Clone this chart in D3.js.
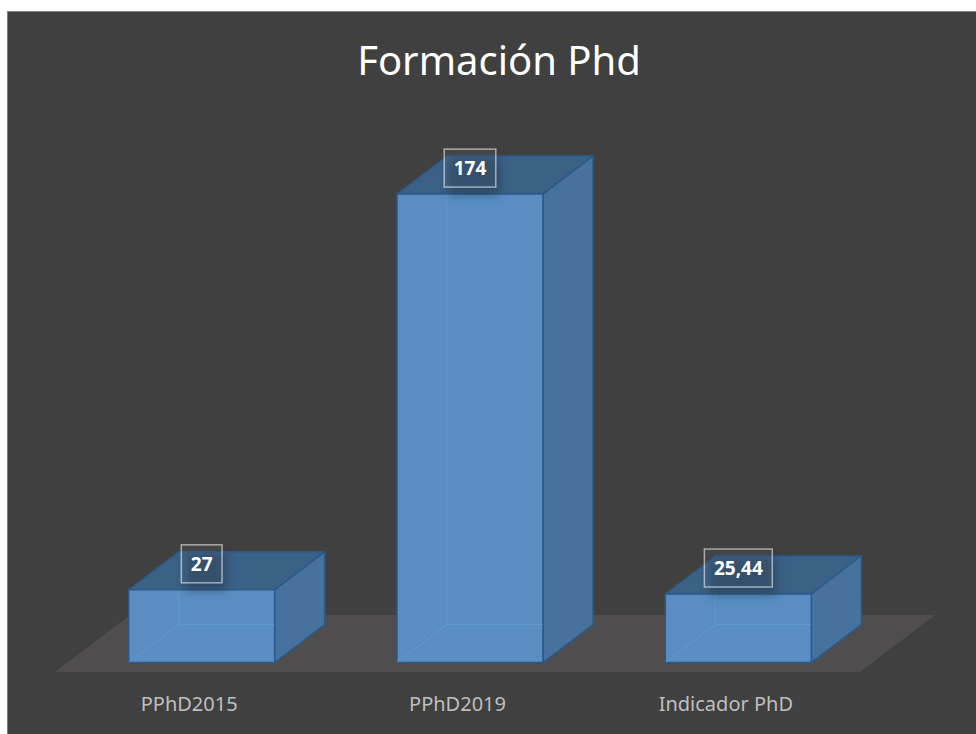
<!DOCTYPE html>
<html>
<head>
<meta charset="utf-8">
<script src="https://cdn.jsdelivr.net/npm/d3@7"></script>
<style>
  html, body { margin: 0; padding: 0; background: #ffffff; overflow: hidden; }
  svg { display: block; }
</style>
</head>
<body>
<div id="chart"></div>
<script>
// data
const categories = ['PPhD2015', 'PPhD2019', 'Indicador PhD'];
const values = [27, 174, 25.44];
const valueLabels = ['27', '174', '25,44'];
const chartTitle = 'Formación Phd';

const width = 976, height = 734;

// floor geometry (front edge + depth vector of the 3D floor)
const floor = { left: 55, right: 860, y: 672, dx: 75, dy: -57 };
// bars occupy depth 1/6 .. 5/6 of the floor
const zFront = 1 / 6, zBack = 5 / 6;
const barFrac = 0.544;

const svg = d3.select('#chart').append('svg')
  .attr('width', width).attr('height', height);

const defs = svg.append('defs');
const blur = defs.append('filter').attr('id', 'shadow')
  .attr('x', '-50%').attr('y', '-50%').attr('width', '200%').attr('height', '200%');
blur.append('feGaussianBlur').attr('stdDeviation', 5);

// chart area
svg.append('rect')
  .attr('x', 7.5).attr('y', 11.5)
  .attr('width', 1000).attr('height', 740)
  .attr('fill', '#404040')
  .attr('stroke', '#808080').attr('stroke-width', 1);

// scales
const xScale = d3.scaleBand()
  .domain(categories)
  .range([floor.left, floor.right])
  .padding(0);
const hScale = d3.scaleLinear()
  .domain([0, 200])
  .range([0, 538.4]);

// projection: screen x at front, height above floor, depth fraction z
const proj = (x, h, z) => [x + floor.dx * z, floor.y + floor.dy * z - h];
const poly = pts => 'M' + pts.map(p => p.join(',')).join('L') + 'Z';

// floor
svg.append('path')
  .attr('d', poly([proj(floor.left, 0, 0), proj(floor.right, 0, 0),
                   proj(floor.right, 0, 1), proj(floor.left, 0, 1)]))
  .attr('fill', '#4f4d4d');

// title
svg.append('text')
  .attr('x', 499).attr('y', 75)
  .attr('text-anchor', 'middle')
  .attr('font-family', '"Noto Sans", sans-serif')
  .attr('font-size', 40)
  .attr('fill', '#ffffff')
  .text(chartTitle);

const data = categories.map((c, i) => ({ cat: c, value: values[i], label: valueLabels[i] }));

const bars = svg.append('g').selectAll('g.bar')
  .data(data).enter().append('g').attr('class', 'bar');

const geo = d => {
  const cx = xScale(d.cat) + xScale.bandwidth() / 2;
  const w = xScale.bandwidth() * barFrac;
  const x0 = cx - w / 2, x1 = cx + w / 2, h = hScale(d.value);
  return { x0, x1, h, cx };
};

const stroke = '#2b5a8a';

// top face
bars.append('path')
  .attr('d', d => { const g = geo(d);
    return poly([proj(g.x0, g.h, zFront), proj(g.x1, g.h, zFront), proj(g.x1, g.h, zBack), proj(g.x0, g.h, zBack)]); })
  .attr('fill', '#3b6186').attr('stroke', stroke).attr('stroke-width', 1.5).attr('stroke-linejoin', 'round');

// side face
bars.append('path')
  .attr('d', d => { const g = geo(d);
    return poly([proj(g.x1, g.h, zFront), proj(g.x1, g.h, zBack), proj(g.x1, 0, zBack), proj(g.x1, 0, zFront)]); })
  .attr('fill', '#46729d').attr('stroke', stroke).attr('stroke-width', 1.5).attr('stroke-linejoin', 'round');

// front face
bars.append('path')
  .attr('d', d => { const g = geo(d);
    return poly([proj(g.x0, 0, zFront), proj(g.x1, 0, zFront), proj(g.x1, g.h, zFront), proj(g.x0, g.h, zFront)]); })
  .attr('fill', '#5a8ec3').attr('stroke', stroke).attr('stroke-width', 1.5).attr('stroke-linejoin', 'round');

// hidden back edges showing faintly through the front face
bars.append('path')
  .attr('d', d => { const g = geo(d);
    const b = proj(g.x0, 0, zBack), t = proj(g.x0, g.h, zBack), f = proj(g.x0, 0, zFront);
    const maxY = proj(g.x0, g.h, zFront)[1];
    const tt = [t[0], Math.max(t[1], maxY)];
    const br = proj(g.x1, 0, zBack);
    return `M${f}L${b}L${tt}M${b}L${[Math.min(br[0], g.x1 + floor.dx * zFront), b[1]]}`; })
  .attr('fill', 'none').attr('stroke', '#79b0e6').attr('stroke-opacity', 0.3).attr('stroke-width', 1);

// value labels
const labels = svg.append('g').selectAll('g.lbl')
  .data(data).enter().append('g').attr('class', 'lbl')
  .attr('transform', d => { const g = geo(d);
    const p = proj(g.cx, g.h, zFront);
    return `translate(${p[0]},${p[1] - 26})`; });

const txt = labels.append('text')
  .attr('text-anchor', 'middle')
  .attr('y', 7)
  .attr('font-family', '"Noto Sans", sans-serif')
  .attr('font-weight', 'bold')
  .attr('font-size', 19)
  .attr('fill', '#ffffff')
  .text(d => d.label);

labels.each(function () {
  const g = d3.select(this);
  const tw = g.select('text').node().getComputedTextLength();
  const w = tw + 19, h = 38;
  g.insert('rect', 'text')
    .attr('x', -w / 2 + 4).attr('y', -h / 2 + 8)
    .attr('width', w).attr('height', h)
    .attr('fill', '#1e2f40').attr('opacity', 0.45)
    .attr('filter', 'url(#shadow)');
  g.insert('rect', 'text')
    .attr('x', -w / 2).attr('y', -h / 2)
    .attr('width', w).attr('height', h)
    .attr('fill', '#ffffff').attr('fill-opacity', 0.04)
    .attr('stroke', '#ffffff').attr('stroke-opacity', 0.55).attr('stroke-width', 1.5);
});

// category labels
svg.append('g').selectAll('text.cat')
  .data(categories).enter().append('text')
  .attr('class', 'cat')
  .attr('x', d => xScale(d) + xScale.bandwidth() / 2)
  .attr('y', 711)
  .attr('text-anchor', 'middle')
  .attr('font-family', '"Noto Sans", sans-serif')
  .attr('font-size', 20)
  .attr('fill', '#bfbfbf')
  .text(d => d);
</script>
</body>
</html>
